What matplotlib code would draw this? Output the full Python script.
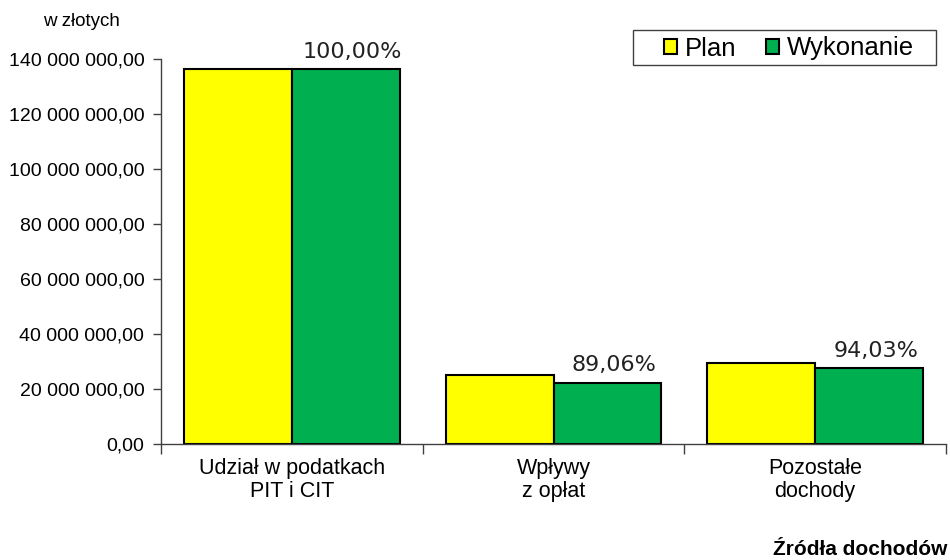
import numpy as np
import matplotlib.pyplot as plt
from matplotlib.patches import Rectangle
from matplotlib.ticker import FuncFormatter, MultipleLocator

# Dane (w złotych)
categories = ["Udział w podatkach\nPIT i CIT", "Wpływy\nz opłat", "Pozostałe\ndochody"]
plan = [136_400_000, 25_100_000, 29_450_000]
wykonanie = [136_400_000, 22_350_000, 27_700_000]
percent_labels = ["100,00%", "89,06%", "94,03%"]

YELLOW = "#FFFF00"
GREEN = "#00B050"
AXIS_GREY = "#404040"


def pl_format(v, pos):
    """Format liczby jak w Excelu: spacje tysięcy, przecinek dziesiętny."""
    s = f"{v:,.2f}"
    return s.replace(",", " ").replace(".", ",")


fig = plt.figure(figsize=(9.5, 5.6), dpi=100)
ax = fig.add_axes([0.1695, 0.2071, 0.8263, 0.6875])

x = np.arange(len(categories))
w = 0.412
ax.bar(x - w / 2, plan, w, color=YELLOW, edgecolor="black", linewidth=1.5, label="Plan")
ax.bar(x + w / 2, wykonanie, w, color=GREEN, edgecolor="black", linewidth=1.5, label="Wykonanie")

for xi, val, lab in zip(x, wykonanie, percent_labels):
    ax.text(xi + w / 2 + 0.025, val + 2_600_000, lab, ha="center", va="bottom",
            fontsize=16, family="DejaVu Sans", color="#222222")

ax.set_xlim(-0.5, 2.5)
ax.set_ylim(0, 140_000_000)
ax.yaxis.set_major_locator(MultipleLocator(20_000_000))
ax.yaxis.set_major_formatter(FuncFormatter(pl_format))

# kreski między kategoriami na osi X
ax.set_xticks([-0.5, 0.5, 1.5, 2.5])
ax.set_xticklabels([])
ax.set_xticks(x, minor=True)
ax.set_xticklabels(categories, minor=True, fontsize=15.5, family="Liberation Sans",
                   linespacing=1.1)
ax.tick_params(axis="x", which="minor", length=0, pad=10)
ax.tick_params(axis="x", which="major", length=7, width=1, color=AXIS_GREY)
ax.tick_params(axis="y", length=6, width=1, color=AXIS_GREY, labelsize=14, pad=6)
for lbl in ax.get_yticklabels():
    lbl.set_family("Liberation Sans")

for side in ["top", "right"]:
    ax.spines[side].set_visible(False)
for side in ["left", "bottom"]:
    ax.spines[side].set_color(AXIS_GREY)
    ax.spines[side].set_linewidth(1)

# legenda: ramka rysowana osobno, wpisy bez ramki
fig.patches.append(Rectangle((633 / 950, 1 - 65 / 560), 303 / 950, 35 / 560,
                             transform=fig.transFigure, fill=False,
                             edgecolor=AXIS_GREY, linewidth=1))
leg = fig.legend(*ax.get_legend_handles_labels(), loc="center",
                 bbox_to_anchor=(789 / 950, 1 - 48.5 / 560), ncol=2, frameon=False,
                 handlelength=0.5, handleheight=0.5, handletextpad=0.3,
                 columnspacing=1.15, borderpad=0,
                 prop={"family": "Liberation Sans", "size": 18.5})
for h in leg.legend_handles:
    h.set_linewidth(1.5)

fig.text(0.045, 0.962, "w złotych", fontsize=13.5, family="Liberation Sans",
         ha="left", va="center")
fig.text(0.997, 0.018, "Źródła dochodów", fontsize=15, family="Liberation Sans",
         fontweight="bold", ha="right", va="center")

fig.savefig("out.png", dpi=100)
